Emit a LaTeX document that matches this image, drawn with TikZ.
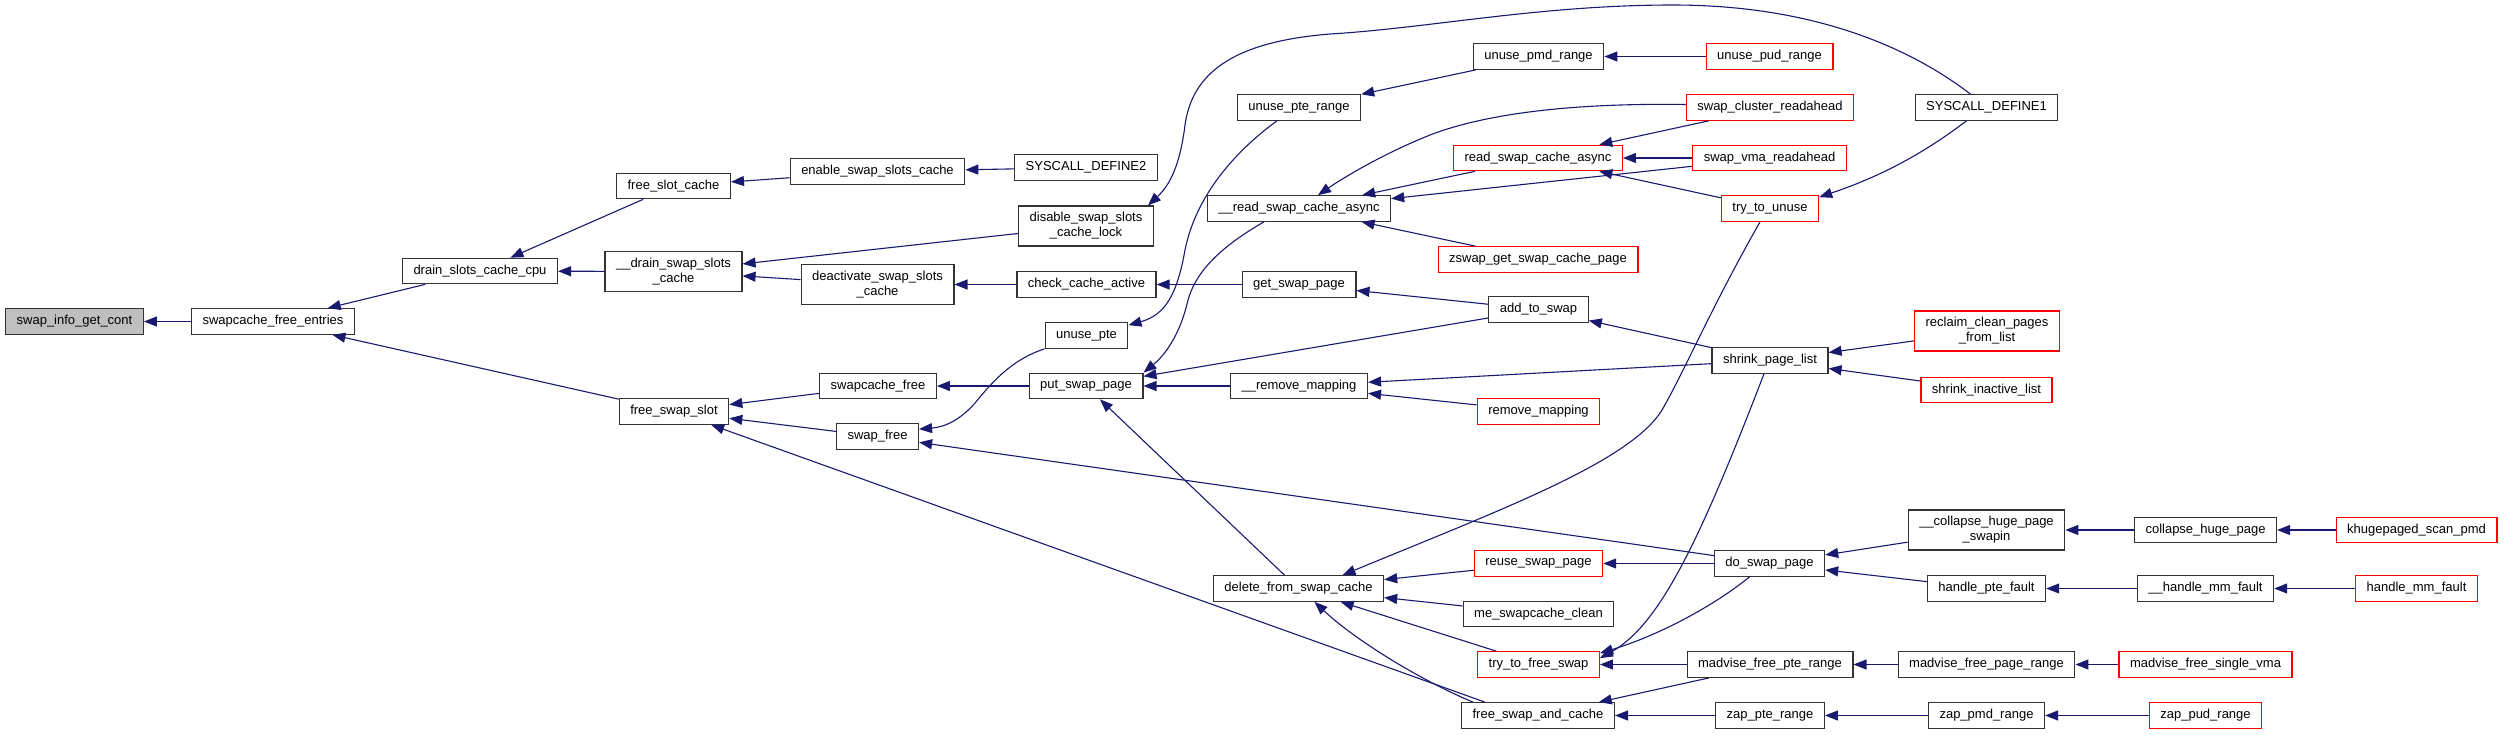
\documentclass[tikz,border=0pt]{standalone}
\usepackage{fontspec}
\setmainfont{Liberation Sans}
\usepackage{tikz}
\usetikzlibrary{arrows.meta}
\definecolor{edgeblue}{HTML}{191970}
\definecolor{rootgray}{HTML}{BFBFBF}

\tikzset{
  fn/.style={draw=black!80, line width=1.2pt, fill=white, inner xsep=11pt, inner ysep=0pt,
    minimum height=25.5pt, align=center, font=\fontsize{13}{15}\selectfont},
  fnred/.style={fn, draw=red},
  fnroot/.style={fn, fill=rootgray},
  tall/.style={minimum height=40pt},
  call/.style={draw=edgeblue, line width=1.1pt, -{Triangle[length=13pt,width=10pt]}},
}

\begin{document}
\begin{tikzpicture}[x=1pt,y=-1pt]
    \useasboundingbox (0,0) rectangle (2509,734);

    \node[fnroot] (sigc) at (74.5,321.5) {swap\_info\_get\_cont};
    \node[fn] (sfe) at (273,321.5) {swapcache\_free\_entries};
    \node[fn] (dscc) at (480,271) {drain\_slots\_cache\_cpu};
    \node[fn] (fsc) at (673.5,186) {free\_slot\_cache};
    \node[fn,tall] (ddsc) at (673.5,271.5) {\_\_drain\_swap\_slots\\\_cache};
    \node[fn] (fss) at (674,411.5) {free\_swap\_slot};
    \node[fn] (essc) at (877.5,171.5) {enable\_swap\_slots\_cache};
    \node[fn,tall] (dasc) at (877.5,284.5) {deactivate\_swap\_slots\\\_cache};
    \node[fn] (scfree) at (878,386) {swapcache\_free};
    \node[fn] (swfree) at (877.5,436.5) {swap\_free};
    \node[fn] (sd2) at (1086,167.5) {SYSCALL\_DEFINE2};
    \node[fn,tall] (dssl) at (1086,226) {disable\_swap\_slots\\\_cache\_lock};
    \node[fn] (cca) at (1086.5,284.5) {check\_cache\_active};
    \node[fn] (upte) at (1086.5,335.5) {unuse\_pte};
    \node[fn] (psp) at (1086,386) {put\_swap\_page};
    \node[fn] (upr) at (1299,107.5) {unuse\_pte\_range};
    \node[fn] (rsca) at (1299,208.5) {\_\_read\_swap\_cache\_async};
    \node[fn] (gsp) at (1299,284.5) {get\_swap\_page};
    \node[fn] (rmap) at (1299,386) {\_\_remove\_mapping};
    \node[fn] (dfsc) at (1298.5,588.5) {delete\_from\_swap\_cache};
    \node[fn] (upmd) at (1538.5,56.5) {unuse\_pmd\_range};
    \node[fnred] (rdsca) at (1538,158) {read\_swap\_cache\_async};
    \node[fnred] (zgsc) at (1538,259.5) {zswap\_get\_swap\_cache\_page};
    \node[fn] (ats) at (1538.5,309.5) {add\_to\_swap};
    \node[fnred] (remap) at (1538.5,411.5) {remove\_mapping};
    \node[fnred] (reuse) at (1538.5,563.5) {reuse\_swap\_page};
    \node[fn] (msc) at (1538.5,614) {me\_swapcache\_clean};
    \node[fnred] (ttfs) at (1538.5,664.5) {try\_to\_free\_swap};
    \node[fn] (fsac) at (1538,715.5) {free\_swap\_and\_cache};
    \node[fnred] (upud) at (1769.5,56.5) {unuse\_pud\_range};
    \node[fnred] (scra) at (1770,107.5) {swap\_cluster\_readahead};
    \node[fnred] (svra) at (1769.5,158) {swap\_vma\_readahead};
    \node[fnred] (ttu) at (1770,208.5) {try\_to\_unuse};
    \node[fn] (spl) at (1770,360.5) {shrink\_page\_list};
    \node[fn] (dsp) at (1769.5,563.5) {do\_swap\_page};
    \node[fn] (mfpr) at (1770,664.5) {madvise\_free\_pte\_range};
    \node[fn] (zpte) at (1770,715.5) {zap\_pte\_range};
    \node[fn] (sd1) at (1986.5,107.5) {SYSCALL\_DEFINE1};
    \node[fnred,tall] (rcpl) at (1987,331) {reclaim\_clean\_pages\\\_from\_list};
    \node[fnred] (sil) at (1986.5,390) {shrink\_inactive\_list};
    \node[fn,tall] (chps) at (1986.5,530) {\_\_collapse\_huge\_page\\\_swapin};
    \node[fn] (hpf) at (1986.5,588.5) {handle\_pte\_fault};
    \node[fn] (mfpgr) at (1986.5,664.5) {madvise\_free\_page\_range};
    \node[fn] (zpmd) at (1986.5,715.5) {zap\_pmd\_range};
    \node[fn] (chp) at (2205.5,530) {collapse\_huge\_page};
    \node[fn] (hmmf) at (2205.5,588.5) {\_\_handle\_mm\_fault};
    \node[fnred] (mfsv) at (2205.5,664.5) {madvise\_free\_single\_vma};
    \node[fnred] (zpud) at (2205.5,715.5) {zap\_pud\_range};
    \node[fnred] (ksp) at (2416.5,530) {khugepaged\_scan\_pmd};
    \node[fnred] (hmf) at (2416.5,588.5) {handle\_mm\_fault};

    \draw[call] (sfe) -- (sigc);
    \draw[call] (dscc) -- (sfe);
    \draw[call] (fss) -- (sfe);
    \draw[call] (fsc) -- (dscc);
    \draw[call] (ddsc) -- (dscc);
    \draw[call] (essc) -- (fsc);
    \draw[call] (sd2) -- (essc);
    \draw[call] (dssl) -- (ddsc);
    \draw[call] (dasc) -- (ddsc);
    \draw[call] (cca) -- (dasc);
    \draw[call] (gsp) -- (cca);
    \draw[call] (scfree) -- (fss);
    \draw[call] (swfree) -- (fss);
    \draw[call] ([xshift=-53pt]fsac.north) -- (fss);
    \draw[call] (psp) -- (scfree);
    \draw[call] (dsp) -- (swfree);
    \draw[call] (rmap) -- (psp);
    \draw[call] (dfsc) -- (psp);
    \draw[call] (ats) -- (psp);
    \draw[call] (upmd) -- (upr);
    \draw[call] (upud) -- (upmd);
    \draw[call] (rdsca) -- (rsca);
    \draw[call] (svra) -- (rsca);
    \draw[call] (zgsc) -- (rsca);
    \draw[call] (scra) -- (rdsca);
    \draw[call] (svra) -- (rdsca);
    \draw[call] (ttu) -- (rdsca);
    \draw[call] (ats) -- (gsp);
    \draw[call] (spl) -- (ats);
    \draw[call] (spl) -- (rmap);
    \draw[call] (remap) -- (rmap);
    \draw[call] (rcpl) -- (spl);
    \draw[call] (sil) -- (spl);
    \draw[call] (reuse) -- (dfsc);
    \draw[call] (msc) -- (dfsc);
    \draw[call] (ttfs) -- (dfsc);
    \draw[call] (dsp) -- (reuse);
    \draw[call] (mfpr) -- (ttfs);
    \draw[call] (mfpr) -- (fsac);
    \draw[call] (zpte) -- (fsac);
    \draw[call] (chps) -- (dsp);
    \draw[call] (hpf) -- (dsp);
    \draw[call] (chp) -- (chps);
    \draw[call] (ksp) -- (chp);
    \draw[call] (hmmf) -- (hpf);
    \draw[call] (hmf) -- (hmmf);
    \draw[call] (mfpgr) -- (mfpr);
    \draw[call] (mfsv) -- (mfpgr);
    \draw[call] (zpmd) -- (zpte);
    \draw[call] (zpud) -- (zpmd);

    \draw[call] ([xshift=-16pt]sd1.north) .. controls (1900,40) and (1800,5) .. (1673,5)
      .. controls (1540,5) and (1430,28) .. (1330,34)
      .. controls (1230,42) and (1192,75) .. (1185,125)
      .. controls (1180,165) and (1170,185) .. ([xshift=-6pt]dssl.north east);
    \draw[call] ([xshift=-20pt]sd1.south) .. controls (1915,160) and (1870,180) .. ([yshift=-2pt]ttu.north east);
    \draw[call] (upte.south west) .. controls (1010,360) and (990,385) .. (975,403)
      .. controls (960,420) and (945,427) .. ([yshift=-6pt]swfree.north east);
    \draw[call] ([xshift=-22pt]upr.south) .. controls (1230,155) and (1195,200) .. (1185,250)
      .. controls (1177,295) and (1165,315) .. ([yshift=-3pt]upte.north east);
    \draw[call] ([xshift=-35pt]rsca.south) .. controls (1215,250) and (1195,275) .. (1188,300)
      .. controls (1180,335) and (1165,355) .. (psp.north east);
    \draw[call] ([yshift=3pt]scra.west) .. controls (1580,103) and (1490,112) .. (1430,135)
      .. controls (1380,155) and (1340,180) .. ([xshift=19pt]rsca.north);
    \draw[call] ([xshift=-10pt]ttu.south) .. controls (1710,310) and (1685,370) .. (1662,410)
      .. controls (1630,462) and (1500,510) .. ([xshift=44pt]dfsc.north);
    \draw[call] ([xshift=-65pt]fsac.north) .. controls (1420,680) and (1355,640) .. ([xshift=16pt]dfsc.south);
    \draw[call] ([xshift=-6pt]spl.south) .. controls (1700,540) and (1660,625) .. ([yshift=-7pt]ttfs.north east);
    \draw[call] ([xshift=-20pt]dsp.south) .. controls (1715,605) and (1660,635) .. ([yshift=-2pt]ttfs.north east);
  \end{tikzpicture}
\end{document}
